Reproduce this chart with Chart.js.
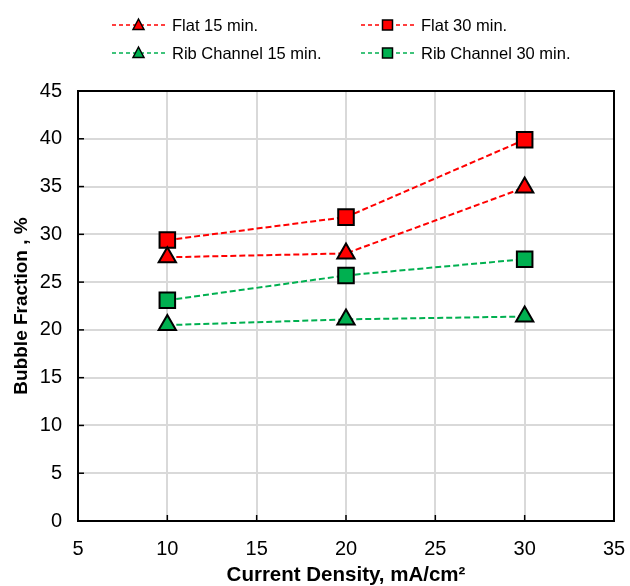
<!DOCTYPE html>
<html><head><meta charset="utf-8">
<script src="https://cdn.jsdelivr.net/npm/chart.js@4/dist/chart.umd.min.js"></script>
<style>html,body{margin:0;padding:0;background:#fff}#wrap{width:630px;height:586px}</style>
</head><body><div id="wrap"><canvas id="c" width="630" height="586"></canvas></div>
<script>
const currentDensity = [10, 20, 30];
const flat15 = [27.6, 28.0, 34.9];
const flat30 = [29.4, 31.8, 39.9];
const rib15 = [20.5, 21.1, 21.4];
const rib30 = [23.1, 25.7, 27.4];
const xTicks = [5, 10, 15, 20, 25, 30, 35];
const yTicks = [0, 5, 10, 15, 20, 25, 30, 35, 40, 45];
const seriesNames = ['Flat 15 min.', 'Flat 30 min.', 'Rib Channel 15 min.', 'Rib Channel 30 min.'];

const RED = '#FF0000', GREEN = '#00B050';
function mk(label, vals, color, style) {
  return {
    label, data: currentDensity.map((x, i) => ({x, y: vals[i]})),
    borderColor: color, backgroundColor: color, borderWidth: 2, borderDash: [6, 3],
    pointStyle: style, pointRadius: style === 'rect' ? 11 : 10, pointBorderColor: '#000',
    pointBackgroundColor: color, pointBorderWidth: 2, fill: false, tension: 0
  };
}
const datasets = [
  mk(seriesNames[0], flat15, RED, 'triangle'),
  mk(seriesNames[1], flat30, RED, 'rect'),
  mk(seriesNames[2], rib15, GREEN, 'triangle'),
  mk(seriesNames[3], rib30, GREEN, 'rect')
];

const FONT = 'Liberation Sans, Arial, sans-serif';

const framePlugin = {
  id: 'frame',
  beforeDatasetsDraw(chart) {
    const {ctx, chartArea: a, scales} = chart;
    ctx.save();
    ctx.strokeStyle = '#000'; ctx.lineWidth = 1.5;
    scales.x.ticks.forEach(t => {
      const px = scales.x.getPixelForValue(t.value);
      ctx.beginPath(); ctx.moveTo(px, a.bottom); ctx.lineTo(px, a.bottom - 6); ctx.stroke();
    });
    scales.y.ticks.forEach(t => {
      const py = scales.y.getPixelForValue(t.value);
      ctx.beginPath(); ctx.moveTo(a.left, py); ctx.lineTo(a.left + 6, py); ctx.stroke();
    });
    ctx.lineWidth = 2;
    ctx.strokeRect(a.left, a.top, a.right - a.left, a.bottom - a.top);
    ctx.restore();
  },
  afterDraw(chart) {
    const ctx = chart.ctx;
    ctx.save();
    const cols = [112, 361], rows = [25, 53];
    chart.data.datasets.forEach((ds, i) => {
      const x0 = cols[i % 2], y = rows[Math.floor(i / 2)];
      ctx.strokeStyle = ds.borderColor; ctx.lineWidth = 1.5; ctx.setLineDash([4, 3]);
      ctx.beginPath(); ctx.moveTo(x0, y); ctx.lineTo(x0 + 55, y); ctx.stroke();
      ctx.setLineDash([]);
      ctx.fillStyle = ds.backgroundColor; ctx.strokeStyle = '#000'; ctx.lineWidth = 1.5;
      const cx = x0 + 26.5;
      if (ds.pointStyle === 'rect') {
        ctx.beginPath(); ctx.rect(cx - 5, y - 5, 10, 10); ctx.fill(); ctx.stroke();
      } else {
        ctx.beginPath(); ctx.moveTo(cx, y - 6); ctx.lineTo(cx + 5.5, y + 4.5); ctx.lineTo(cx - 5.5, y + 4.5); ctx.closePath(); ctx.fill(); ctx.stroke();
      }
      ctx.fillStyle = '#000'; ctx.font = '16.5px ' + FONT; ctx.textBaseline = 'middle'; ctx.textAlign = 'left';
      ctx.fillText(ds.label, x0 + 60, y + 1);
    });
    ctx.restore();
  }
};

new Chart(document.getElementById('c'), {
  type: 'line',
  data: {datasets},
  options: {
    responsive: false, animation: false, devicePixelRatio: 1,
    layout: {padding: {top: 91, right: 16, left: 4, bottom: 0}},
    plugins: {legend: {display: false}, tooltip: {enabled: false}},
    scales: {
      x: {
        type: 'linear', min: 5, max: 35,
        afterBuildTicks: s => { s.ticks = xTicks.map(v => ({value: v})); },
        afterFit: s => { s.height = 65; s.paddingLeft = 0; s.paddingRight = 0; },
        grid: {color: '#d9d9d9', lineWidth: 2, drawTicks: false},
        border: {display: false},
        ticks: {color: '#000', font: {size: 20, family: FONT}, padding: 16},
        title: {display: true, text: 'Current Density, mA/cm²', color: '#000', font: {size: 20.5, weight: 'bold', family: FONT, lineHeight: 1}, padding: {top: 7, bottom: 0}}
      },
      y: {
        type: 'linear', min: 0, max: 45,
        afterBuildTicks: s => { s.ticks = yTicks.map(v => ({value: v})); },
        afterFit: s => { s.width = 74; s.paddingTop = 0; s.paddingBottom = 0; },
        grid: {color: '#d9d9d9', lineWidth: 2, drawTicks: false},
        border: {display: false},
        ticks: {color: '#000', font: {size: 20, family: FONT}, padding: 16},
        title: {display: true, text: 'Bubble Fraction , %', color: '#000', font: {size: 19, weight: 'bold', family: FONT, lineHeight: 1}, padding: {top: 8, bottom: 10}}
      }
    }
  },
  plugins: [framePlugin]
});
</script></body></html>
